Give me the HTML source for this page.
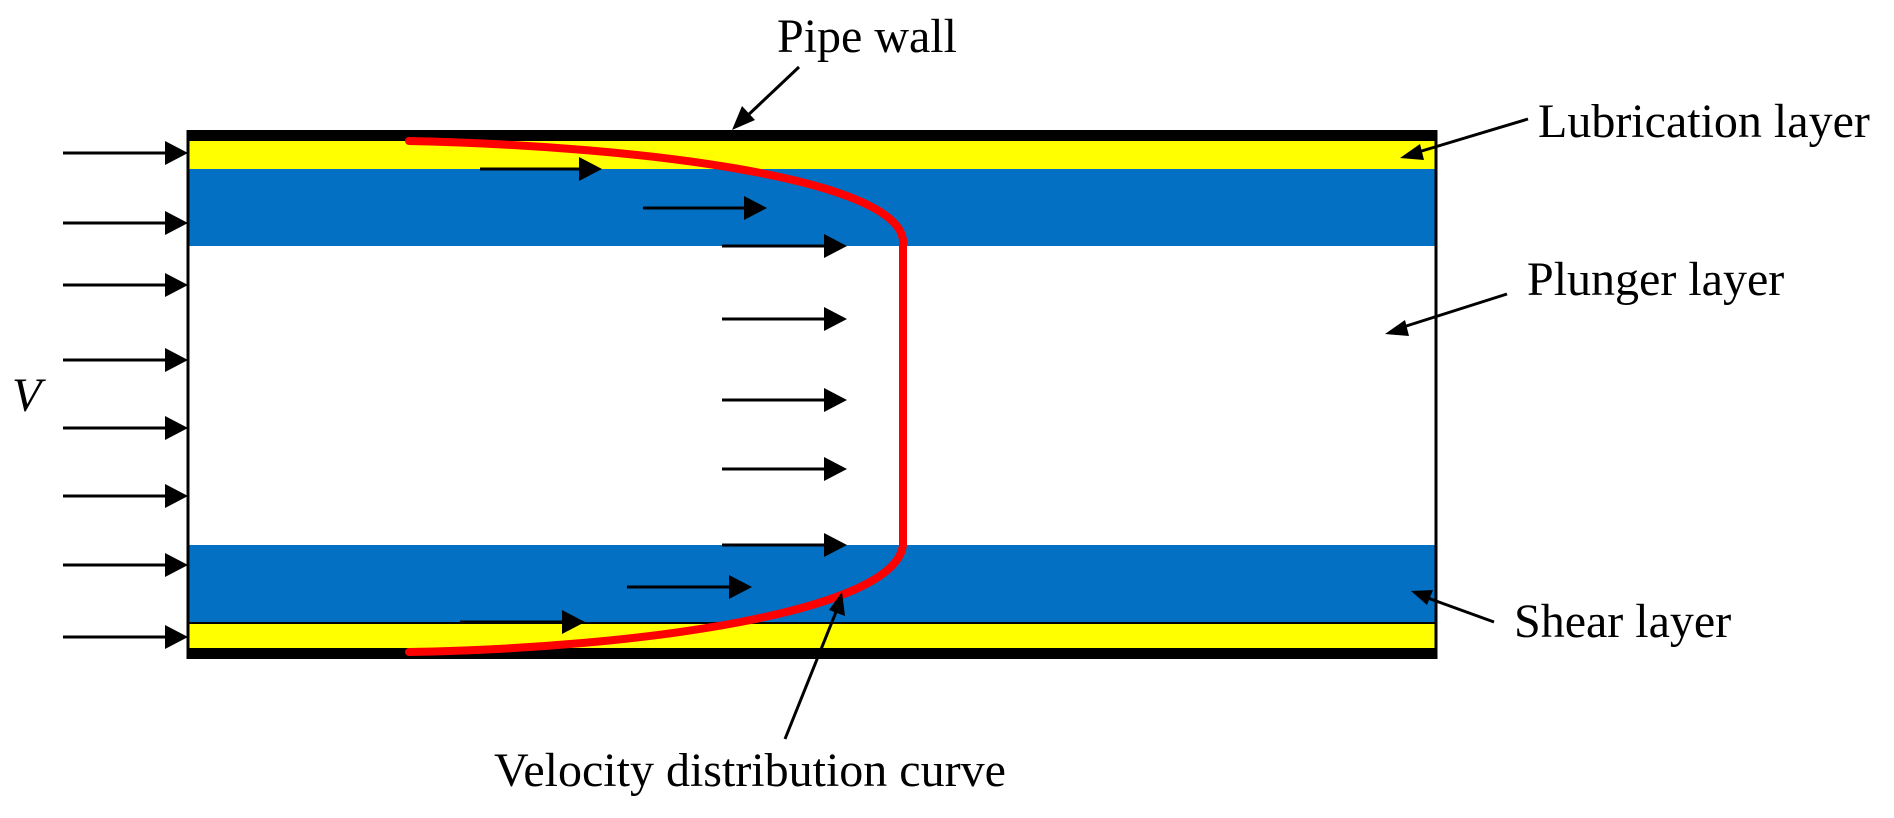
<!DOCTYPE html>
<html><head><meta charset="utf-8"><style>
html,body{margin:0;padding:0;background:#fff;}
svg{display:block;}
text{font-family:"Liberation Serif",serif;font-size:48px;fill:#000;}
</style></head><body>
<svg width="1894" height="818" viewBox="0 0 1894 818" xmlns="http://www.w3.org/2000/svg">
<!-- layers -->
<rect x="187" y="141" width="1250" height="28" fill="#ffff00"/>
<rect x="187" y="169" width="1250" height="77" fill="#0470c4"/>
<rect x="187" y="545" width="1250" height="78" fill="#0470c4"/>
<line x1="187" y1="623" x2="1437" y2="623" stroke="#000" stroke-width="2"/>
<rect x="187" y="624" width="1250" height="24" fill="#ffff00"/>
<rect x="187" y="130" width="1250" height="11" fill="#000"/>
<rect x="187" y="648" width="1250" height="11" fill="#000"/>
<line x1="188" y1="130" x2="188" y2="659" stroke="#000" stroke-width="3"/>
<line x1="1436" y1="130" x2="1436" y2="659" stroke="#000" stroke-width="3"/>

<!-- left arrows -->
<g stroke="#000" stroke-width="3" fill="#000">
<line x1="63" y1="153" x2="170" y2="153"/><polygon points="165,141 188,153 165,165" stroke="none"/>
<line x1="63" y1="223" x2="170" y2="223"/><polygon points="165,211 188,223 165,235" stroke="none"/>
<line x1="63" y1="285" x2="170" y2="285"/><polygon points="165,273 188,285 165,297" stroke="none"/>
<line x1="63" y1="360" x2="170" y2="360"/><polygon points="165,348 188,360 165,372" stroke="none"/>
<line x1="63" y1="428" x2="170" y2="428"/><polygon points="165,416 188,428 165,440" stroke="none"/>
<line x1="63" y1="496" x2="170" y2="496"/><polygon points="165,484 188,496 165,508" stroke="none"/>
<line x1="63" y1="565" x2="170" y2="565"/><polygon points="165,553 188,565 165,577" stroke="none"/>
<line x1="63" y1="637" x2="170" y2="637"/><polygon points="165,625 188,637 165,649" stroke="none"/>
</g>
<!-- inner arrows -->
<g stroke="#000" stroke-width="3" fill="#000">
<line x1="480" y1="169" x2="585" y2="169"/><polygon points="579,157 602,169 579,181" stroke="none"/>
<line x1="643" y1="208" x2="750" y2="208"/><polygon points="744,196 767,208 744,220" stroke="none"/>
<line x1="722" y1="246" x2="830" y2="246"/><polygon points="824,234 847,246 824,258" stroke="none"/>
<line x1="722" y1="319" x2="830" y2="319"/><polygon points="824,307 847,319 824,331" stroke="none"/>
<line x1="722" y1="400" x2="830" y2="400"/><polygon points="824,388 847,400 824,412" stroke="none"/>
<line x1="722" y1="469" x2="830" y2="469"/><polygon points="824,457 847,469 824,481" stroke="none"/>
<line x1="722" y1="545" x2="830" y2="545"/><polygon points="824,533 847,545 824,557" stroke="none"/>
<line x1="627" y1="587" x2="735" y2="587"/><polygon points="729,575 752,587 729,599" stroke="none"/>
<line x1="460" y1="622" x2="568" y2="622"/><polygon points="562,610 585,622 562,634" stroke="none"/>
</g>
<!-- red curve -->
<path d="M409,141 C 640,146 895,178 903,240 L903,545 C 895,612 640,648 409,652" fill="none" stroke="#ff0000" stroke-width="8" stroke-linecap="round"/>

<!-- label arrows -->
<g stroke="#000" stroke-width="3" fill="#000">
<line x1="799" y1="67" x2="745" y2="118"/><polygon points="732,130 742,106 755,120" stroke="none"/>
<line x1="1528" y1="119" x2="1415" y2="153"/><polygon points="1400,158 1420,144 1424,160" stroke="none"/>
<line x1="1507" y1="294" x2="1400" y2="328"/><polygon points="1385,334 1405,320 1409,336" stroke="none"/>
<line x1="1494" y1="622" x2="1425" y2="597"/><polygon points="1411,591 1433,590 1427,605" stroke="none"/>
<line x1="785" y1="739" x2="838" y2="607"/><polygon points="842,592 845,616 829,610" stroke="none"/>
</g>

<text x="777" y="52">Pipe wall</text>
<text x="1538" y="137">Lubrication layer</text>
<text x="1527" y="295">Plunger layer</text>
<text x="1514" y="637">Shear layer</text>
<text x="494" y="786">Velocity distribution curve</text>
<text x="12" y="411" font-style="italic">V</text>
</svg>
</body></html>
